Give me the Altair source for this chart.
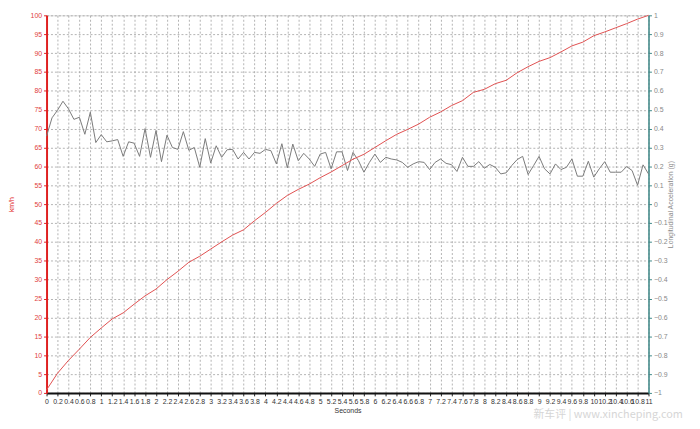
import altair as alt
import pandas as pd

# Speed (km/h)
speed_t = [0.0, 0.2, 0.4, 0.6, 0.8, 1.0, 1.2, 1.4, 1.6, 1.8, 2.0, 2.2, 2.4, 2.6, 2.8,
           3.0, 3.2, 3.4, 3.6, 3.8, 4.0, 4.2, 4.4, 4.6, 4.8, 5.0, 5.2, 5.4, 5.6, 5.8,
           6.0, 6.2, 6.4, 6.6, 6.8, 7.0, 7.2, 7.4, 7.6, 7.8, 8.0, 8.2, 8.4, 8.6, 8.8,
           9.0, 9.2, 9.4, 9.6, 9.8, 10.0, 10.2, 10.4, 10.6, 10.8, 11.0]
speed_kmh = [0.8, 5.2, 8.6, 11.6, 14.7, 17.2, 19.6, 21.2, 23.5, 25.7, 27.5, 30.0, 32.2, 34.6, 36.2,
             38.1, 40.0, 41.8, 43.2, 45.6, 47.8, 50.2, 52.3, 53.9, 55.3, 57.0, 58.5, 60.2, 61.9, 63.2,
             65.0, 66.8, 68.5, 69.8, 71.2, 73.0, 74.4, 76.1, 77.4, 79.6, 80.4, 81.9, 82.8, 84.8, 86.4,
             87.8, 88.8, 90.3, 91.9, 92.9, 94.6, 95.6, 96.7, 97.8, 99.0, 100.0]

# Longitudinal acceleration (g)
acc_t = [0.0, 0.1, 0.2, 0.3, 0.4, 0.5, 0.6, 0.7, 0.8, 0.9,
         1.0, 1.1, 1.2, 1.3, 1.4, 1.5, 1.6, 1.7, 1.8, 1.9,
         2.0, 2.1, 2.2, 2.3, 2.4, 2.5, 2.6, 2.7, 2.8, 2.9,
         3.0, 3.1, 3.2, 3.3, 3.4, 3.5, 3.6, 3.7, 3.8, 3.9,
         4.0, 4.1, 4.2, 4.3, 4.4, 4.5, 4.6, 4.7, 4.8, 4.9,
         5.0, 5.1, 5.2, 5.3, 5.4, 5.5, 5.6, 5.7, 5.8, 5.9,
         6.0, 6.1, 6.2, 6.3, 6.4, 6.5, 6.6, 6.7, 6.8, 6.9,
         7.0, 7.1, 7.2, 7.3, 7.4, 7.5, 7.6, 7.7, 7.8, 7.9,
         8.0, 8.1, 8.2, 8.3, 8.4, 8.5, 8.6, 8.7, 8.8, 8.9,
         9.0, 9.1, 9.2, 9.3, 9.4, 9.5, 9.6, 9.7, 9.8, 9.9,
         10.0, 10.1, 10.2, 10.3, 10.4, 10.5, 10.6, 10.7, 10.8, 10.9, 11.0]
acc_g = [0.36, 0.457, 0.497, 0.545, 0.505, 0.449, 0.46, 0.37, 0.487, 0.326,
         0.368, 0.33, 0.335, 0.342, 0.253, 0.33, 0.323, 0.253, 0.40, 0.248,
         0.39, 0.225, 0.365, 0.30, 0.29, 0.384, 0.285, 0.30, 0.195, 0.347,
         0.218, 0.309, 0.248, 0.288, 0.29, 0.239, 0.274, 0.239, 0.274, 0.269,
         0.29, 0.283, 0.213, 0.32, 0.192, 0.318, 0.23, 0.269, 0.239, 0.20,
         0.265, 0.274, 0.187, 0.277, 0.277, 0.178, 0.274, 0.23, 0.169, 0.221,
         0.265, 0.221, 0.248, 0.239, 0.234, 0.221, 0.195, 0.213, 0.225, 0.221,
         0.183, 0.221, 0.239, 0.216, 0.209, 0.173, 0.248, 0.20, 0.20, 0.225,
         0.19, 0.21, 0.195, 0.16, 0.166, 0.204, 0.236, 0.253, 0.157, 0.204,
         0.253, 0.187, 0.16, 0.213, 0.183, 0.195, 0.239, 0.148, 0.148, 0.227,
         0.143, 0.187, 0.225, 0.169, 0.169, 0.169, 0.199, 0.178, 0.10, 0.208, 0.16]

x_ticks = [round(i * 0.2, 1) for i in range(56)]
speed_ticks = list(range(0, 101, 5))
acc_ticks = [round(-1 + i * 0.1, 1) for i in range(21)]

speed_df = pd.DataFrame({"t": speed_t, "speed": speed_kmh})
acc_df = pd.DataFrame({"t": acc_t, "acc": acc_g})

FONT = "Liberation Sans"
xscale = alt.Scale(domain=[0, 11], nice=False, zero=False)
xaxis = alt.Axis(title="Seconds", values=x_ticks, format=".1~f",
                 labelOverlap=False, labelFlush=False, labelFontSize=7,
                 labelColor="#333333", labelFont=FONT, labelPadding=2,
                 tickSize=3, tickColor="#222222", domainColor="#111111",
                 domainWidth=2, titleFontSize=7, titleFontWeight="normal",
                 titleFont=FONT, titleColor="#333333", titlePadding=2,
                 titleAnchor="middle",
                 grid=True, gridDash=[2, 2], gridColor="#a0a0a0", gridWidth=0.8)

speed = alt.Chart(speed_df).mark_line(color="#e05050", strokeWidth=1).encode(
    x=alt.X("t:Q", scale=xscale, axis=xaxis),
    y=alt.Y("speed:Q", scale=alt.Scale(domain=[0, 100], nice=False),
            axis=alt.Axis(title="km/h", values=speed_ticks, labelFontSize=7,
                          labelColor="#e04040", labelFont=FONT, tickSize=3,
                          tickColor="#e02020", domainColor="#e02020", domainWidth=2,
                          titleColor="#e02020", titleFontSize=7,
                          titleFontWeight="normal", titleFont=FONT, titlePadding=16,
                          grid=True, gridDash=[2, 2], gridColor="#a0a0a0",
                          gridWidth=0.8, labelOverlap=False)),
)

acc = alt.Chart(acc_df).mark_line(color="#7a7a7a", strokeWidth=1).encode(
    x=alt.X("t:Q", scale=xscale, axis=xaxis),
    y=alt.Y("acc:Q", scale=alt.Scale(domain=[-1, 1], nice=False),
            axis=alt.Axis(orient="right", title="Longitudinal Acceleration (g)",
                          values=acc_ticks, format=".1~f", labelFontSize=7,
                          labelColor="#888888", labelFont=FONT, tickSize=3,
                          tickColor="#3f8a8a", domainColor="#3f8a8a", domainWidth=1.5,
                          titleColor="#888888", titleFontSize=7,
                          titleFontWeight="normal", titleFont=FONT, titleAngle=270,
                          titlePadding=6, grid=False, labelOverlap=False)),
)

chart = alt.layer(acc, speed).resolve_scale(y="independent").properties(
    width=609,
    height=382,
    autosize=alt.AutoSizeParams(type="none"),
    padding={"left": 39, "top": 5, "right": 44, "bottom": 26},
    title=alt.TitleParams("新车评 | www.xincheping.com", orient="bottom", anchor="end",
                          color="#d6d6d6", fontSize=11, fontWeight="normal",
                          font="Noto Sans CJK SC", offset=-5, dx=10),
).configure_view(stroke="#777777", strokeWidth=2).configure(background="white")

chart.save("out.html", embed_options={"renderer": "svg", "actions": False})
